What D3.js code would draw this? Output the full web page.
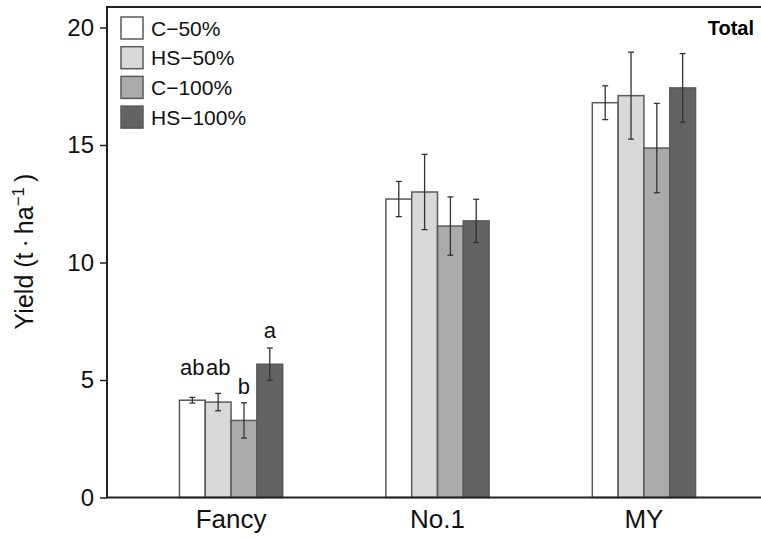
<!DOCTYPE html>
<html>
<head>
<meta charset="utf-8">
<script src="https://cdn.jsdelivr.net/npm/d3@7"></script>
<style>
  body { margin: 0; background: #fff; }
  svg { display: block; font-family: "Liberation Sans", Arial, sans-serif; }
</style>
</head>
<body>
<div id="chart"></div>
<script>
// data
const categories = ['Fancy', 'No.1', 'MY'];
const treatments = ['C\u221250%', 'HS\u221250%', 'C\u2212100%', 'HS\u2212100%'];
const fills = ['#ffffff', '#d9d9d9', '#ababab', '#636363'];

// mean yield per treatment, one array per category
const fancyMeans = [4.14, 4.06, 3.28, 5.67];
const no1Means = [12.70, 13.00, 11.55, 11.77];
const myMeans = [16.80, 17.10, 14.87, 17.43];

// error bar half-widths
const fancyErr = [0.12, 0.37, 0.75, 0.69];
const no1Err = [0.75, 1.60, 1.24, 0.92];
const myErr = [0.72, 1.85, 1.90, 1.46];

// significance letters (Fancy only)
const fancyLetters = ['ab', 'ab', 'b', 'a'];

const yTicks = [0, 5, 10, 15, 20];

const rows = [
  { cat: categories[0], means: fancyMeans, errs: fancyErr, letters: fancyLetters },
  { cat: categories[1], means: no1Means, errs: no1Err, letters: [] },
  { cat: categories[2], means: myMeans, errs: myErr, letters: [] },
];

const W = 761, H = 539;
const margin = { top: 7, right: -7, bottom: 41.5, left: 107 };

const svg = d3.select('#chart').append('svg')
  .attr('width', W)
  .attr('height', H);

const x = d3.scaleBand()
  .domain(categories)
  .range([margin.left, W - margin.right])
  .paddingInner(0.5)
  .paddingOuter(0.351);

const xSub = d3.scaleBand()
  .domain(treatments)
  .range([0, x.bandwidth()]);

const y = d3.scaleLinear()
  .domain([0, 20])
  .range([H - margin.bottom, 27.5]);

const color = d3.scaleOrdinal().domain(treatments).range(fills);

// bars
const groups = svg.append('g')
  .selectAll('g')
  .data(rows)
  .join('g')
    .attr('transform', d => `translate(${x(d.cat)},0)`);

const cells = d => d.means.map((m, i) => ({
  t: treatments[i], mean: m, err: d.errs[i], letter: d.letters[i] || '', i,
}));

groups.selectAll('rect')
  .data(cells)
  .join('rect')
    .attr('x', d => xSub(d.t))
    .attr('y', d => y(d.mean))
    .attr('width', xSub.bandwidth())
    .attr('height', d => y(0) - y(d.mean))
    .attr('fill', d => color(d.t))
    .attr('stroke', '#5a5a5a')
    .attr('stroke-width', 1.5);

// error bars
const eb = groups.selectAll('g.err')
  .data(cells)
  .join('g')
    .attr('class', 'err')
    .attr('stroke', '#333')
    .attr('stroke-width', 1.3);

const cx = d => xSub(d.t) + xSub.bandwidth() / 2;

eb.append('line')
  .attr('x1', cx).attr('x2', cx)
  .attr('y1', d => y(d.mean - d.err))
  .attr('y2', d => y(d.mean + d.err));

eb.append('line')
  .attr('x1', d => cx(d) - 3).attr('x2', d => cx(d) + 3)
  .attr('y1', d => y(d.mean + d.err))
  .attr('y2', d => y(d.mean + d.err));

eb.append('line')
  .attr('x1', d => cx(d) - 3).attr('x2', d => cx(d) + 3)
  .attr('y1', d => y(d.mean - d.err))
  .attr('y2', d => y(d.mean - d.err));

// letters above error bars (nudge in px per bar)
const labelNudge = [22, 18, 9, 10];
groups.selectAll('text.letter')
  .data(d => cells(d).filter(c => c.letter))
  .join('text')
    .attr('class', 'letter')
    .attr('x', cx)
    .attr('y', d => y(d.mean + d.err) - labelNudge[d.i])
    .attr('text-anchor', 'middle')
    .attr('font-size', 22)
    .attr('fill', '#111')
    .text(d => d.letter);

// axes
const yAxis = svg.append('g')
  .attr('transform', `translate(${margin.left},0)`)
  .call(d3.axisLeft(y).tickValues(yTicks).tickSize(7).tickPadding(6));

yAxis.select('.domain').remove();
yAxis.selectAll('.tick line').attr('stroke', '#222').attr('stroke-width', 1.5);
yAxis.selectAll('.tick text')
  .attr('font-size', 24)
  .attr('font-family', '"Liberation Sans", Arial, sans-serif')
  .attr('fill', '#111');

const xAxis = svg.append('g')
  .attr('transform', `translate(0,${y(0)})`)
  .call(d3.axisBottom(x).tickSize(0).tickPadding(12));

xAxis.select('.domain').remove();
xAxis.selectAll('.tick text')
  .attr('font-size', 26)
  .attr('font-family', '"Liberation Sans", Arial, sans-serif')
  .attr('fill', '#111');

// frame: left, top, bottom
svg.append('path')
  .attr('d', `M${W},${margin.top}H${margin.left}V${y(0)}H${W}`)
  .attr('fill', 'none')
  .attr('stroke', '#222')
  .attr('stroke-width', 2);

// y title
svg.append('text')
  .attr('transform', `translate(33,${(173 + 330) / 2}) rotate(-90)`)
  .attr('text-anchor', 'middle')
  .attr('font-size', 25)
  .attr('fill', '#111')
  .call(t => {
    t.append('tspan').text('Yield (t\u2009\u00b7\u2009ha');
    t.append('tspan').attr('dy', -9).attr('font-size', 17).text('\u22121');
    t.append('tspan').attr('dy', 9).text('\u2009)');
  });

// panel label
svg.append('text')
  .attr('x', 754)
  .attr('y', 35)
  .attr('text-anchor', 'end')
  .attr('font-size', 20)
  .attr('font-weight', 'bold')
  .attr('fill', '#000')
  .text('Total');

// legend
const legend = svg.append('g')
  .selectAll('g')
  .data(treatments)
  .join('g')
    .attr('transform', (d, i) => `translate(121,${17 + i * 29.7})`);

legend.append('rect')
  .attr('width', 22)
  .attr('height', 22)
  .attr('fill', d => color(d))
  .attr('stroke', '#5a5a5a')
  .attr('stroke-width', 1.5);

legend.append('text')
  .attr('x', 30)
  .attr('y', 11)
  .attr('dy', '0.36em')
  .attr('font-size', 21)
  .attr('fill', '#111')
  .text(d => d);
</script>
</body>
</html>
